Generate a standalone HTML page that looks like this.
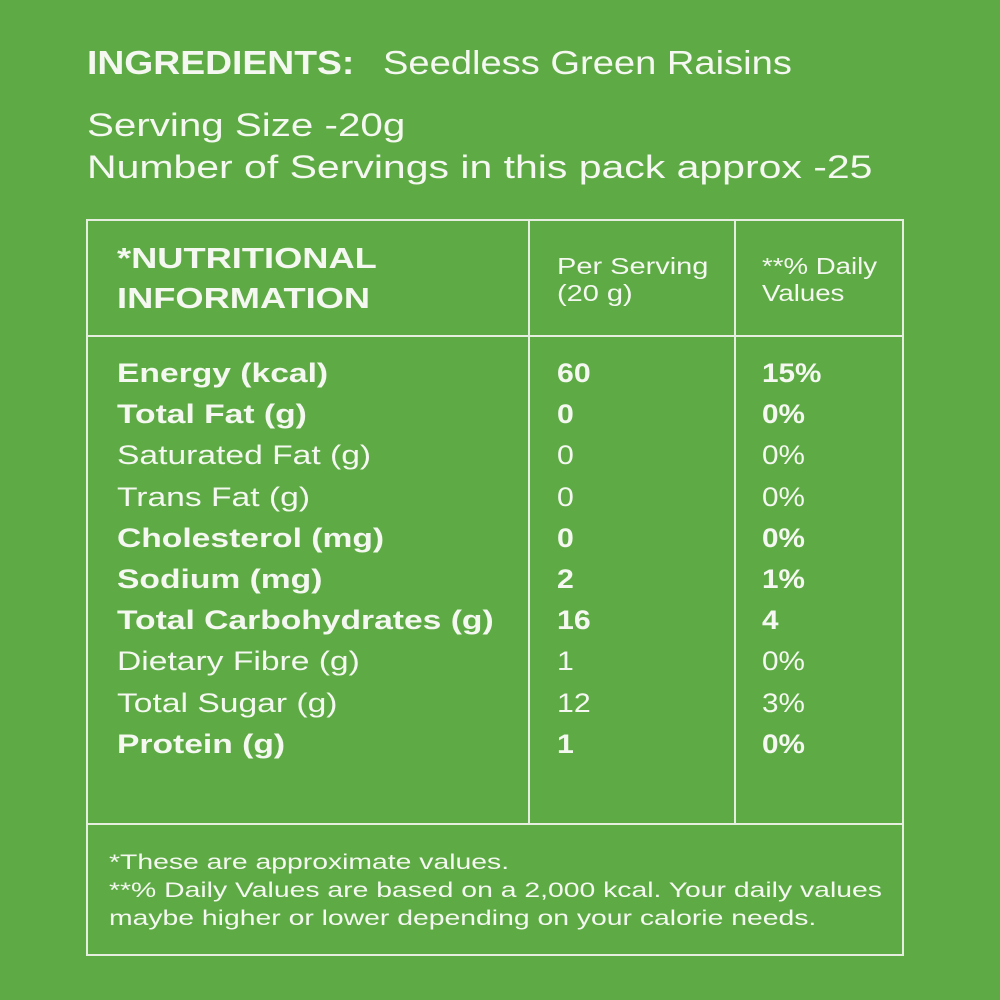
<!DOCTYPE html>
<html><head><meta charset="utf-8"><style>
html,body{margin:0;padding:0}
body{width:1000px;height:1000px;background:#5eab45;position:relative;overflow:hidden;font-family:"Liberation Sans",sans-serif;color:#f4f8f0}
.t{position:absolute;white-space:nowrap;line-height:1;transform-origin:0 0}
.b{font-weight:bold}
.l{position:absolute;background:#e6efdf}
</style></head><body>
<div class="t b" style="left:87px;top:46px;font-size:33px;transform:scaleX(1.13)">INGREDIENTS:</div>
<div class="t" style="left:383px;top:46px;font-size:33px;transform:scaleX(1.155)">Seedless Green Raisins</div>
<div class="t" style="left:87px;top:109px;font-size:32px;transform:scaleX(1.26)">Serving Size -20g</div>
<div class="t" style="left:87px;top:151px;font-size:32px;transform:scaleX(1.28)">Number of Servings in this pack approx -25</div>

<div class="l" style="left:86px;top:219px;width:818px;height:2px"></div>
<div class="l" style="left:86px;top:954px;width:818px;height:2px"></div>
<div class="l" style="left:86px;top:219px;width:2px;height:737px"></div>
<div class="l" style="left:902px;top:219px;width:2px;height:737px"></div>
<div class="l" style="left:86px;top:335px;width:818px;height:2px"></div>
<div class="l" style="left:86px;top:823px;width:818px;height:2px"></div>
<div class="l" style="left:528px;top:219px;width:2px;height:605px"></div>
<div class="l" style="left:734px;top:219px;width:2px;height:605px"></div>

<div class="t b" style="left:117px;top:239px;font-size:29px;line-height:40px;transform:scaleX(1.25)">*NUTRITIONAL<br>INFORMATION</div>
<div class="t" style="left:557px;top:253px;font-size:23px;line-height:27px;transform:scaleX(1.26)">Per Serving<br>(20 g)</div>
<div class="t" style="left:762px;top:253px;font-size:23px;line-height:27px;transform:scaleX(1.2)">**% Daily<br>Values</div>

<div class="t" style="left:117px;top:353px;font-size:27px;line-height:41.2px;transform:scaleX(1.245)">
<b>Energy (kcal)</b><br><b>Total Fat (g)</b><br>Saturated Fat (g)<br>Trans Fat (g)<br><b>Cholesterol (mg)</b><br><b>Sodium (mg)</b><br><b>Total Carbohydrates (g)</b><br>Dietary Fibre (g)<br>Total Sugar (g)<br><b>Protein (g)</b></div>
<div class="t" style="left:557px;top:353px;font-size:27px;line-height:41.2px;transform:scaleX(1.12)">
<b>60</b><br><b>0</b><br>0<br>0<br><b>0</b><br><b>2</b><br><b>16</b><br>1<br>12<br><b>1</b></div>
<div class="t" style="left:762px;top:353px;font-size:27px;line-height:41.2px;transform:scaleX(1.1)">
<b>15%</b><br><b>0%</b><br>0%<br>0%<br><b>0%</b><br><b>1%</b><br><b>4</b><br>0%<br>3%<br><b>0%</b></div>

<div class="t" style="left:109px;top:848px;font-size:21.5px;line-height:28px;transform:scaleX(1.318)">*These are approximate values.<br>**% Daily Values are based on a 2,000 kcal. Your daily values<br>maybe higher or lower depending on your calorie needs.</div>
</body></html>
